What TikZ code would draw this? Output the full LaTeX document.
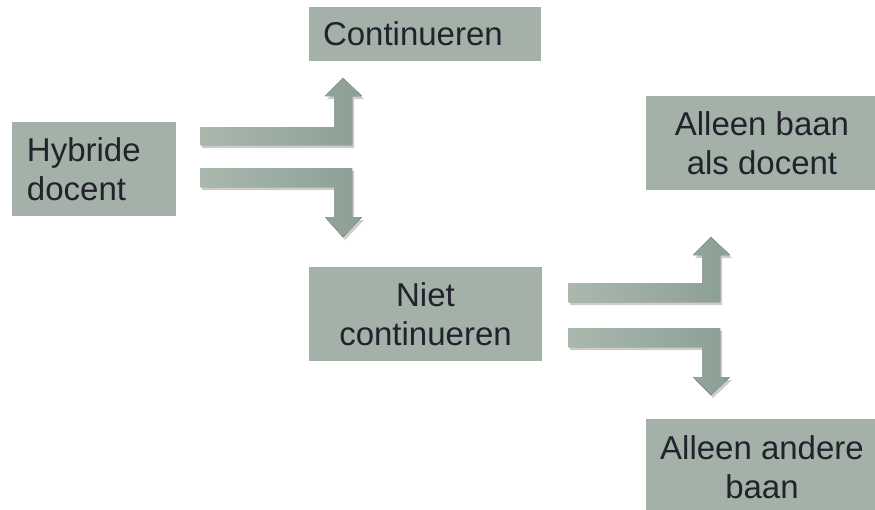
\documentclass[tikz,border=0pt]{standalone}
\usepackage{fontspec}
\setmainfont{Liberation Sans}
\definecolor{boxfill}{RGB}{163,177,168}
\definecolor{txt}{RGB}{34,34,44}
\definecolor{arrL}{RGB}{170,184,174}
\definecolor{arrD}{RGB}{140,159,149}
\tikzset{
  box/.style={fill=boxfill, draw=none, text=txt, inner sep=0pt,
    font=\fontsize{33}{39.5}\selectfont},
  bentarrow/.style={left color=arrL, right color=arrD, draw=none,
    preaction={fill=black, opacity=0.2, transform canvas={shift={(2pt,-3pt)}}}}
}
\begin{document}
\begin{tikzpicture}[x=1pt,y=-1pt]
\useasboundingbox (0,0) rectangle (875,509);
\clip (0,0) rectangle (875,509);
\fill[white] (0,0) rectangle (875,509);
% boxes
\node[box, minimum width=164pt, minimum height=94pt, text width=134pt, align=left] (hyb) at (94,169) {Hybride\\docent};
\node[box, minimum width=232pt, minimum height=54pt, text width=204pt, align=left] (cont) at (425,34) {Continueren};
\node[box, minimum width=233pt, minimum height=94pt, align=center] (niet) at (425.5,314) {Niet\\continueren};
\node[box, minimum width=232pt, minimum height=94pt, align=center] (docent) at (762,143) {Alleen baan\\als docent};
\node[box, minimum width=232pt, minimum height=96pt, align=center] (andere) at (762,467) {Alleen andere\\baan};
% bent arrows, first pair
\fill[bentarrow] (200,127) -- (334,127) -- (334,96) -- (325,96) -- (343,78) -- (362,96) -- (352,96) -- (352,145) -- (200,145) -- cycle;
\fill[bentarrow] (200,168) -- (352,168) -- (352,217) -- (362,217) -- (343,237) -- (325,217) -- (334,217) -- (334,187) -- (200,187) -- cycle;
% bent arrows, second pair
\fill[bentarrow] (568,283) -- (702,283) -- (702,255) -- (693,255) -- (711,237) -- (730,255) -- (720,255) -- (720,302) -- (568,302) -- cycle;
\fill[bentarrow] (568,328) -- (720,328) -- (720,377) -- (730,377) -- (711,395) -- (693,377) -- (702,377) -- (702,347) -- (568,347) -- cycle;
\end{tikzpicture}
\end{document}
